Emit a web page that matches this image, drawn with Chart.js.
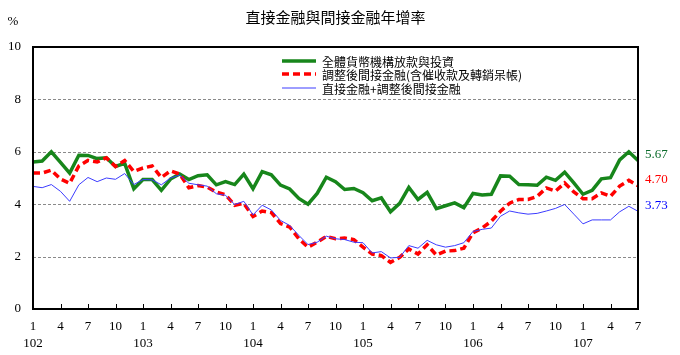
<!DOCTYPE html>
<html>
<head>
<meta charset="utf-8">
<script src="https://cdn.jsdelivr.net/npm/chart.js@4/dist/chart.umd.min.js"></script>
<style>
html,body{margin:0;padding:0;background:#fff;}
#wrap{width:680px;height:355px;}
</style>
</head>
<body>
<div id="wrap"><canvas id="c" width="680" height="355"></canvas></div>
<script>
const titleText = '直接金融與間接金融年增率';
const years = ['102','103','104','105','106','107'];
const lastYearMonths = 7;
const seriesNames = ['全體貨幣機構放款與投資','調整後間接金融(含催收款及轉銷呆帳)','直接金融+調整後間接金融'];
const yTicks = [0,2,4,6,8,10];

const totalLoans = [5.61,5.65,6.00,5.60,5.19,5.87,5.86,5.74,5.77,5.44,5.56,4.59,
  4.94,4.94,4.53,4.96,5.15,4.94,5.09,5.12,4.74,4.86,4.75,5.15,
  4.59,5.24,5.12,4.73,4.58,4.22,4.00,4.41,5.03,4.86,4.56,4.60,
  4.44,4.13,4.24,3.71,4.03,4.64,4.18,4.45,3.83,3.94,4.05,3.87,
  4.41,4.35,4.38,5.08,5.07,4.75,4.74,4.72,5.03,4.91,5.22,4.81,
  4.38,4.53,4.97,5.01,5.69,6.00,5.67];
const indirect = [5.19,5.19,5.30,4.96,4.80,5.46,5.67,5.61,5.77,5.44,5.67,5.25,
  5.38,5.46,5.02,5.27,5.15,4.63,4.71,4.65,4.46,4.36,3.96,4.03,
  3.53,3.74,3.68,3.26,3.13,2.68,2.36,2.55,2.77,2.68,2.71,2.65,
  2.36,2.10,2.04,1.78,1.97,2.29,2.10,2.45,2.06,2.21,2.23,2.32,
  2.91,3.09,3.35,3.73,4.04,4.18,4.18,4.30,4.62,4.50,4.81,4.47,
  4.21,4.21,4.43,4.30,4.69,4.91,4.70];
const directPlusIndirect = [4.68,4.63,4.75,4.49,4.11,4.74,5.02,4.86,5.00,4.95,5.17,4.75,
  4.94,4.93,4.74,5.00,5.11,4.80,4.74,4.69,4.40,4.34,3.99,4.11,
  3.59,3.96,3.78,3.38,3.19,2.81,2.46,2.55,2.78,2.68,2.65,2.55,
  2.53,2.14,2.19,1.95,1.97,2.42,2.32,2.62,2.45,2.36,2.42,2.53,
  2.96,3.04,3.09,3.54,3.74,3.67,3.62,3.65,3.74,3.84,3.99,3.62,
  3.25,3.40,3.40,3.40,3.71,3.92,3.73];

const categories = [];
years.forEach((y, yi) => {
  const n = yi === years.length - 1 ? lastYearMonths : 12;
  for (let m = 1; m <= n; m++) categories.push(y + '/' + m);
});

const colors = { green: '#17861b', red: '#ff0000', blue: '#3c3cff' };
const labelColors = { green: '#0b6b2b', red: '#ff0000', blue: '#0000ff' };
const serif = '"Liberation Serif", "DejaVu Serif", serif';
const cjk = '"Noto Sans CJK TC", "Noto Sans CJK SC", sans-serif';

const decor = {
  id: 'decor',
  beforeDatasetsDraw(chart) {
    const ctx = chart.ctx, ca = chart.chartArea, ys = chart.scales.y;
    ctx.save();
    ctx.strokeStyle = '#8a8a8a';
    ctx.lineWidth = 1;
    ctx.setLineDash([3, 2]);
    yTicks.forEach(v => {
      if (v === 0 || v === 10) return;
      const y = Math.round(ys.getPixelForValue(v)) + 0.5;
      ctx.beginPath(); ctx.moveTo(ca.left, y); ctx.lineTo(ca.right, y); ctx.stroke();
    });
    ctx.restore();
  },
  afterDraw(chart) {
    const ctx = chart.ctx, ca = chart.chartArea, xs = chart.scales.x, ys = chart.scales.y;
    ctx.save();
    // frame
    ctx.strokeStyle = '#000'; ctx.lineWidth = 2; ctx.setLineDash([]);
    ctx.strokeRect(ca.left, ca.top, ca.right - ca.left, ca.bottom - ca.top);
    // inner tick marks
    ctx.lineWidth = 1;
    categories.forEach((c, i) => {
      if (i % 3 !== 0) return;
      const x = Math.round(xs.getPixelForValue(i)) + 0.5;
      ctx.beginPath(); ctx.moveTo(x, ca.bottom); ctx.lineTo(x, ca.bottom - 5); ctx.stroke();
    });
    // title
    ctx.fillStyle = '#000';
    ctx.font = '15px ' + cjk;
    ctx.textAlign = 'center'; ctx.textBaseline = 'middle';
    ctx.fillText(titleText, (ca.left + ca.right) / 2, 17);
    // percent
    ctx.font = '13px ' + serif;
    ctx.fillText('%', 13, 22);
    // legend
    const lx0 = 282, lx1 = 316, rows = [61, 74, 88];
    const dsList = chart.data.datasets;
    dsList.forEach((ds, i) => {
      const y = rows[i];
      ctx.strokeStyle = ds.borderColor;
      ctx.lineWidth = ds.borderWidth;
      ctx.setLineDash(ds.borderDash || []);
      ctx.beginPath(); ctx.moveTo(lx0, y); ctx.lineTo(lx1, y); ctx.stroke();
      ctx.setLineDash([]);
      ctx.fillStyle = '#000';
      ctx.font = '12px ' + cjk;
      ctx.textAlign = 'left'; ctx.textBaseline = 'middle';
      ctx.fillText(ds.label, 322, y + 1);
    });
    // end labels
    ctx.font = '13px ' + serif;
    ctx.textAlign = 'left';
    const keys = ['green', 'red', 'blue'];
    dsList.forEach((ds, i) => {
      const v = ds.data[ds.data.length - 1];
      ctx.fillStyle = labelColors[keys[i]];
      ctx.fillText(v.toFixed(2), 645, ys.getPixelForValue(v) - 6);
    });
    ctx.restore();
  }
};

new Chart(document.getElementById('c'), {
  type: 'line',
  data: {
    labels: categories,
    datasets: [
      { label: seriesNames[0], data: totalLoans, borderColor: colors.green, borderWidth: 3.5, order: 3 },
      { label: seriesNames[1], data: indirect, borderColor: colors.red, borderWidth: 3.5, borderDash: [7, 4], order: 2 },
      { label: seriesNames[2], data: directPlusIndirect, borderColor: colors.blue, borderWidth: 1, order: 1 }
    ]
  },
  options: {
    responsive: false,
    animation: false,
    devicePixelRatio: 1,
    layout: { padding: { top: 47, right: 42, left: 0, bottom: 0 } },
    elements: { point: { radius: 0 }, line: { tension: 0, borderCapStyle: 'butt', borderJoinStyle: 'miter', fill: false } },
    plugins: { legend: { display: false }, title: { display: false }, tooltip: { enabled: false } },
    scales: {
      x: {
        type: 'category',
        offset: false,
        grid: { display: false, drawTicks: false },
        border: { display: false },
        ticks: {
          autoSkip: false, maxRotation: 0, minRotation: 0, padding: 9,
          color: '#000',
          font: { family: serif, size: 13, lineHeight: 1.3 },
          callback: function (val, idx) {
            const parts = categories[idx].split('/');
            const m = parseInt(parts[1], 10);
            if (m === 1) return [String(m), parts[0]];
            if ((m - 1) % 3 === 0) return String(m);
            return null;
          }
        },
        afterFit(scale) { scale.height = 46; }
      },
      y: {
        min: 0, max: 10,
        grid: { display: false, drawTicks: false },
        border: { display: false },
        ticks: { stepSize: 2, padding: 12, color: '#000', font: { family: serif, size: 13 } },
        afterFit(scale) { scale.width = 33; }
      }
    }
  },
  plugins: [decor]
});
</script>
</body>
</html>
